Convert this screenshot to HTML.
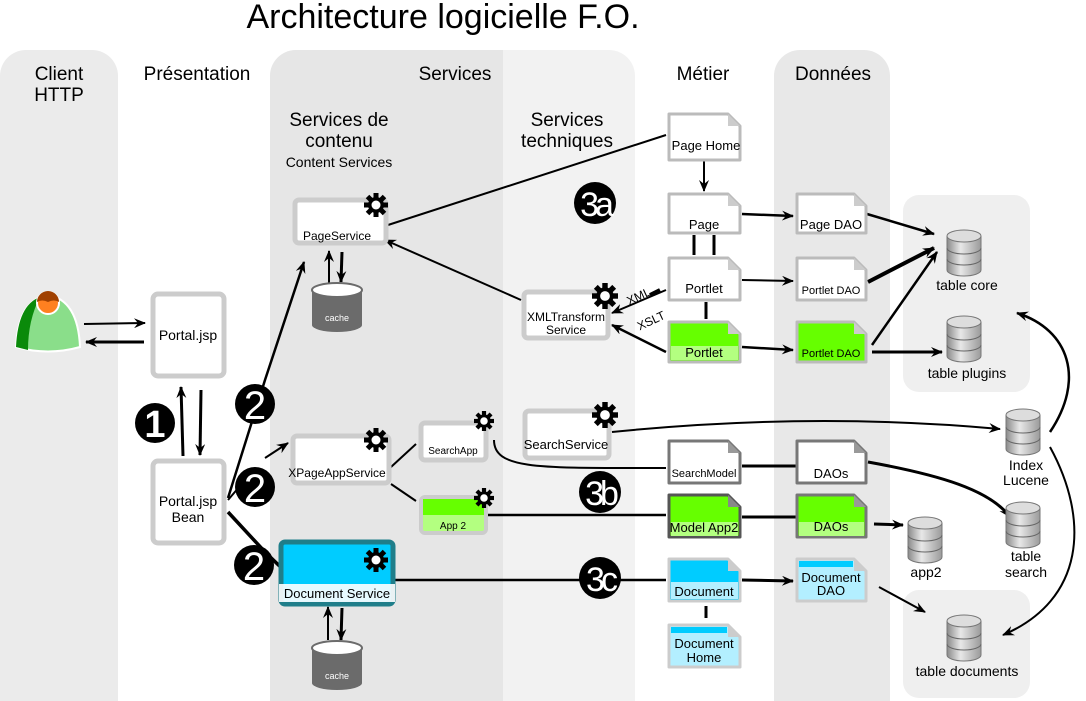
<!DOCTYPE html>
<html><head><meta charset="utf-8"><style>
html,body{margin:0;padding:0;background:#fff;width:1086px;height:701px;overflow:hidden}
svg{display:block}
text{font-family:"Liberation Sans",sans-serif;fill:#000}
</style></head><body>
<svg width="1086" height="701" viewBox="0 0 1086 701" xmlns="http://www.w3.org/2000/svg" overflow="hidden">
<defs>
<marker id="a" markerWidth="12" markerHeight="10" refX="11" refY="5" orient="auto" markerUnits="userSpaceOnUse"><path d="M0,0 L12,5 L0,10 L4,5 z" fill="#000"/></marker>
<linearGradient id="dbg" x1="0" x2="1"><stop offset="0" stop-color="#8a8a8a"/><stop offset="0.4" stop-color="#e8e8e8"/><stop offset="1" stop-color="#9a9a9a"/></linearGradient>
<symbol id="db" viewBox="0 0 36 50"><path d="M1,8 v34 a17,6 0 0 0 34,0 v-34" fill="url(#dbg)" stroke="#777"/><ellipse cx="18" cy="8" rx="17" ry="6" fill="#ddd" stroke="#777"/><path d="M1,20 a17,6 0 0 0 34,0 M1,31 a17,6 0 0 0 34,0" fill="none" stroke="#666"/></symbol>
<symbol id="gear" viewBox="-12 -12 24 24"><g fill="#000"><circle r="8"/><g id="t"><rect x="-2.5" y="-12" width="5" height="24"/></g><use href="#t" transform="rotate(45)"/><use href="#t" transform="rotate(90)"/><use href="#t" transform="rotate(135)"/></g><circle r="4.5" fill="#fff"/></symbol>
</defs>
<path d="M0,76 a26,26 0 0 1 26,-26 H92 a26,26 0 0 1 26,26 V701 H0z" fill="#ebebeb"/>
<path d="M270,76 a26,26 0 0 1 26,-26 H609 a26,26 0 0 1 26,26 V701 H270z" fill="#f2f2f2"/>
<path d="M296,50 H503 V701 H270 V76 a26,26 0 0 1 26,-26z" fill="#e6e6e6"/>
<path d="M774,76 a26,26 0 0 1 26,-26 H864 a26,26 0 0 1 26,26 V701 H774z" fill="#e8e8e8"/>
<rect x="903" y="195" width="127" height="197" rx="16" fill="#efefef"/>
<rect x="903" y="590" width="127" height="108" rx="16" fill="#efefef"/>

<text x="443" y="28" font-size="34" text-anchor="middle">Architecture logicielle F.O.</text>
<g font-size="19" text-anchor="middle">
<text x="59" y="80">Client</text><text x="59" y="101">HTTP</text>
<text x="197" y="80">Présentation</text>
<text x="455" y="80">Services</text>
<text x="703" y="80">Métier</text>
<text x="833" y="80">Données</text>
<text x="339" y="126">Services de</text><text x="339" y="147">contenu</text>
<text x="567" y="126">Services</text><text x="567" y="147">techniques</text>
</g>
<text x="339" y="167" font-size="14" text-anchor="middle">Content Services</text>

<g stroke="#000" fill="none" stroke-width="2">
<line x1="84" y1="324" x2="145" y2="323" marker-end="url(#a)"/>
<line x1="144" y1="342" x2="86" y2="342" stroke-width="3" marker-end="url(#a)"/>
<line x1="183" y1="456" x2="181" y2="387" stroke-width="3" marker-end="url(#a)"/>
<line x1="201" y1="390" x2="200" y2="455" stroke-width="3" marker-end="url(#a)"/>
<polyline points="228,498 265,380 304,262" stroke-width="2.5" marker-end="url(#a)"/>
<line x1="228" y1="500" x2="252" y2="472"/><line x1="265" y1="458" x2="288" y2="443" marker-end="url(#a)"/>
<polyline points="228,512 265,552 292,578" stroke-width="3.5" marker-end="url(#a)"/>
<line x1="388" y1="225" x2="666" y2="135"/>
<line x1="521" y1="300" x2="385" y2="240" marker-end="url(#a)"/>
<line x1="329" y1="283" x2="329" y2="251" marker-end="url(#a)"/>
<line x1="342" y1="252" x2="341" y2="282" stroke-width="3" marker-end="url(#a)"/>
<line x1="328" y1="640" x2="328" y2="607" marker-end="url(#a)"/>
<line x1="342" y1="608" x2="341" y2="640" stroke-width="3" marker-end="url(#a)"/>
<line x1="666" y1="290" x2="612" y2="313" marker-end="url(#a)"/>
<line x1="660" y1="290" x2="650" y2="295" stroke-width="4"/>
<line x1="666" y1="352" x2="612" y2="325" stroke-width="2.5" marker-end="url(#a)"/>
<line x1="704" y1="160" x2="704" y2="191" marker-end="url(#a)"/>
<line x1="694" y1="235" x2="694" y2="255" stroke-width="3"/><line x1="714" y1="235" x2="714" y2="255" stroke-width="3"/>
<line x1="706" y1="302" x2="706" y2="319" stroke-width="3"/>
<line x1="742" y1="214" x2="793" y2="216" stroke-width="2.5" marker-end="url(#a)"/>
<line x1="742" y1="280" x2="793" y2="281" marker-end="url(#a)"/>
<line x1="742" y1="347" x2="793" y2="350" stroke-width="2.5" marker-end="url(#a)"/>
<line x1="867" y1="214" x2="934" y2="234" stroke-width="2.5" marker-end="url(#a)"/>
<line x1="868" y1="282" x2="934" y2="248" stroke-width="4" marker-end="url(#a)"/>
<line x1="872" y1="345" x2="937" y2="252" stroke-width="2.5" marker-end="url(#a)"/>
<line x1="872" y1="352" x2="942" y2="352" stroke-width="3" marker-end="url(#a)"/>
<line x1="391" y1="467" x2="416" y2="444"/>
<line x1="391" y1="484" x2="416" y2="501"/>
<path d="M612,432 C750,418 880,418 1000,429" marker-end="url(#a)"/>
<path d="M494,440 C494,470 540,468 666,468"/>
<line x1="742" y1="466" x2="796" y2="466" stroke-width="3"/>
<path d="M868,462 C940,475 990,490 1010,517" stroke-width="3" marker-end="url(#a)"/>
<line x1="488" y1="515" x2="666" y2="515" stroke-width="2.5"/>
<line x1="742" y1="517" x2="796" y2="517" stroke-width="3"/>
<line x1="874" y1="524" x2="903" y2="525" stroke-width="3" marker-end="url(#a)"/>
<line x1="394" y1="580" x2="666" y2="580" stroke-width="2.5"/>
<line x1="742" y1="580" x2="793" y2="581" stroke-width="3" marker-end="url(#a)"/>
<line x1="706" y1="606" x2="706" y2="618" stroke-width="3"/>
<line x1="879" y1="587" x2="925" y2="612" stroke-width="2" marker-end="url(#a)"/>
<path d="M1050,432 C1085,380 1070,330 1017,313" stroke-width="2.5" marker-end="url(#a)"/>
<path d="M1050,447 C1090,520 1085,600 1003,635" stroke-width="2" marker-end="url(#a)"/>
</g>
<text x="628" y="300" font-size="12" transform="rotate(-25 640 300)">XML</text>
<text x="636" y="326" font-size="12" transform="rotate(-25 648 320)">XSLT</text>

<path d="M16,347 Q18,300 48,295 Q78,300 80,347 Q48,356 16,347z" fill="#8ade8a" stroke="#fff" stroke-width="2"/>
<path d="M16,347 Q18,305 40,297 Q28,320 28,350z" fill="#0a8a0a"/>
<circle cx="48" cy="303" r="11" fill="#ff8020" stroke="#fff" stroke-width="2"/>
<path d="M37,302 a11,11 0 0 1 22,0 q-5,-3 -11,0 q-6,-3 -11,0z" fill="#a04000"/>

<g fill="#fff" stroke="#ccc" stroke-width="5">
<rect x="153" y="294" width="71" height="82" rx="5"/>
<rect x="153" y="461" width="71" height="82" rx="5"/>
<rect x="295" y="200" width="91" height="43" rx="4"/>
<rect x="293" y="436" width="96" height="47" rx="4"/>
<rect x="421" y="423" width="65" height="37" rx="4"/>
<rect x="525" y="411" width="84" height="47" rx="4"/>
<rect x="524" y="292" width="84" height="46" rx="4"/>
</g>
<g font-size="14" text-anchor="middle">
<text x="188" y="340">Portal.jsp</text>
<text x="188" y="506">Portal.jsp</text><text x="188" y="522">Bean</text>
</g>
<text x="337" y="240" font-size="12" text-anchor="middle">PageService</text>
<text x="337" y="477" font-size="12" text-anchor="middle">XPageAppService</text>
<text x="453" y="454" font-size="10" text-anchor="middle">SearchApp</text>
<text x="566" y="449" font-size="13" text-anchor="middle">SearchService</text>
<text x="566" y="321" font-size="12" text-anchor="middle">XMLTransform</text>
<text x="566" y="334" font-size="12" text-anchor="middle">Service</text>
<rect x="421" y="497" width="65" height="36" rx="4" fill="#b3ff80" stroke="#ccc" stroke-width="4"/>
<rect x="423" y="499" width="61" height="16" fill="#66ff00"/>
<text x="453" y="529" font-size="10" text-anchor="middle">App 2</text>
<rect x="281" y="542" width="112" height="62" rx="4" fill="#00ccff" stroke="#1f7e8a" stroke-width="5"/>
<rect x="279" y="584" width="116" height="18" fill="#fff" opacity="0.9"/>
<text x="337" y="598" font-size="13" text-anchor="middle">Document Service</text>
<g>
<use href="#gear" x="364" y="193" width="24" height="24"/>
<use href="#gear" x="364" y="428" width="24" height="24"/>
<use href="#gear" x="474" y="411" width="20" height="20"/>
<use href="#gear" x="474" y="488" width="20" height="20"/>
<use href="#gear" x="592" y="402" width="26" height="26"/>
<use href="#gear" x="592" y="283" width="26" height="26"/>
<use href="#gear" x="364" y="548" width="24" height="24"/>
</g>
<g>
<path d="M312,290 v35 a25,7 0 0 0 50,0 v-35" fill="#6b6b6b"/><ellipse cx="337" cy="290" rx="25" ry="7" fill="#fff" stroke="#6b6b6b" stroke-width="2"/>
<text x="337" y="321" font-size="9" text-anchor="middle" style="fill:#fff">cache</text>
<path d="M312,648 v35 a25,7 0 0 0 50,0 v-35" fill="#6b6b6b"/><ellipse cx="337" cy="648" rx="25" ry="7" fill="#fff" stroke="#6b6b6b" stroke-width="2"/>
<text x="337" y="679" font-size="9" text-anchor="middle" style="fill:#fff">cache</text>
</g>

<g stroke-width="3" stroke-linejoin="round">
<path d="M669,114 h59 l12,12 v34 h-71z" fill="#fff" stroke="#bbb"/>
<path d="M669,194 h59 l12,12 v27 h-71z" fill="#fff" stroke="#bbb"/>
<path d="M669,258 h59 l12,12 v30 h-71z" fill="#fff" stroke="#bbb"/>
<path d="M669,322 h59 l12,12 v28 h-71z" fill="#66ff00" stroke="#bbb"/>
<path d="M669,441 h59 l12,12 v30 h-71z" fill="#fff" stroke="#777"/>
<path d="M669,495 h59 l12,12 v30 h-71z" fill="#66ff00" stroke="#555"/>
<path d="M669,559 h59 l12,12 v30 h-71z" fill="#00ccff" stroke="#ccc"/>
<path d="M669,625 h59 l12,12 v30 h-71z" fill="#b3efff" stroke="#ccc"/>
<path d="M797,194 h57 l12,12 v27 h-69z" fill="#fff" stroke="#bbb"/>
<path d="M797,258 h57 l12,12 v30 h-69z" fill="#fff" stroke="#bbb"/>
<path d="M797,322 h57 l12,12 v28 h-69z" fill="#66ff00" stroke="#bbb"/>
<path d="M797,441 h57 l12,12 v30 h-69z" fill="#fff" stroke="#777"/>
<path d="M797,495 h57 l12,12 v30 h-69z" fill="#66ff00" stroke="#777"/>
<path d="M797,559 h57 l12,12 v30 h-69z" fill="#b3efff" stroke="#ccc"/>
</g>
<g fill="#ccc">
<path d="M728,114 v12 h12z"/><path d="M728,194 v12 h12z"/><path d="M728,258 v12 h12z"/><path d="M728,322 v12 h12z"/>
<path d="M728,441 v12 h12z" fill="#999"/><path d="M728,495 v12 h12z" fill="#888"/><path d="M728,559 v12 h12z"/><path d="M728,625 v12 h12z"/>
<path d="M854,194 v12 h12z"/><path d="M854,258 v12 h12z"/><path d="M854,322 v12 h12z"/><path d="M854,441 v12 h12z" fill="#999"/><path d="M854,495 v12 h12z" fill="#999"/><path d="M854,559 v12 h12z"/>
</g>
<rect x="671" y="346" width="67" height="14" fill="#b3ff80"/>
<rect x="671" y="522" width="67" height="14" fill="#b3ff80"/>
<rect x="799" y="522" width="65" height="14" fill="#b3ff80"/>
<rect x="671" y="582" width="67" height="17" fill="#b3efff"/>
<rect x="671" y="627" width="56" height="6" fill="#00ccff"/>
<rect x="799" y="561" width="54" height="6" fill="#00ccff"/>
<g font-size="13" text-anchor="middle">
<text x="706" y="150">Page Home</text>
<text x="704" y="229">Page</text>
<text x="704" y="293">Portlet</text>
<text x="704" y="357">Portlet</text>
<text x="704" y="477" font-size="11">SearchModel</text>
<text x="704" y="532">Model App2</text>
<text x="704" y="596">Document</text>
<text x="704" y="648">Document</text><text x="704" y="662">Home</text>
<text x="831" y="229">Page DAO</text>
<text x="831" y="294" font-size="11">Portlet DAO</text>
<text x="831" y="357" font-size="11">Portlet DAO</text>
<text x="831" y="478">DAOs</text>
<text x="831" y="531">DAOs</text>
<text x="831" y="582">Document</text><text x="831" y="595">DAO</text>
</g>
<use href="#db" x="946" y="228" width="36" height="50"/>
<use href="#db" x="946" y="314" width="36" height="50"/>
<use href="#db" x="1005" y="407" width="36" height="50"/>
<use href="#db" x="1005" y="500" width="36" height="50"/>
<use href="#db" x="907" y="515" width="36" height="50"/>
<use href="#db" x="946" y="613" width="36" height="50"/>
<g font-size="14" text-anchor="middle">
<text x="967" y="290">table core</text>
<text x="967" y="378">table plugins</text>
<text x="1026" y="470">Index</text><text x="1026" y="485">Lucene</text>
<text x="1026" y="561">table</text><text x="1026" y="577">search</text>
<text x="926" y="577">app2</text>
<text x="967" y="676">table documents</text>
</g>
<g>
<circle cx="155" cy="423" r="20" fill="#000"/><text x="155" y="437" font-size="38" font-weight="bold" text-anchor="middle" style="fill:#fff">1</text>
<circle cx="255" cy="404" r="20" fill="#000"/><text x="255" y="419" font-size="40" text-anchor="middle" style="fill:#fff">2</text>
<circle cx="255" cy="487" r="20" fill="#000"/><text x="255" y="502" font-size="40" text-anchor="middle" style="fill:#fff">2</text>
<circle cx="254" cy="565" r="20" fill="#000"/><text x="254" y="580" font-size="40" text-anchor="middle" style="fill:#fff">2</text>
<circle cx="595" cy="203" r="21" fill="#000"/><text x="595" y="216" font-size="34" letter-spacing="-4" text-anchor="middle" style="fill:#fff">3a</text>
<circle cx="600" cy="492" r="21" fill="#000"/><text x="600" y="505" font-size="34" letter-spacing="-4" text-anchor="middle" style="fill:#fff">3b</text>
<circle cx="600" cy="578" r="21" fill="#000"/><text x="600" y="591" font-size="34" letter-spacing="-4" text-anchor="middle" style="fill:#fff">3c</text>
</g>
</svg>
</body></html>
